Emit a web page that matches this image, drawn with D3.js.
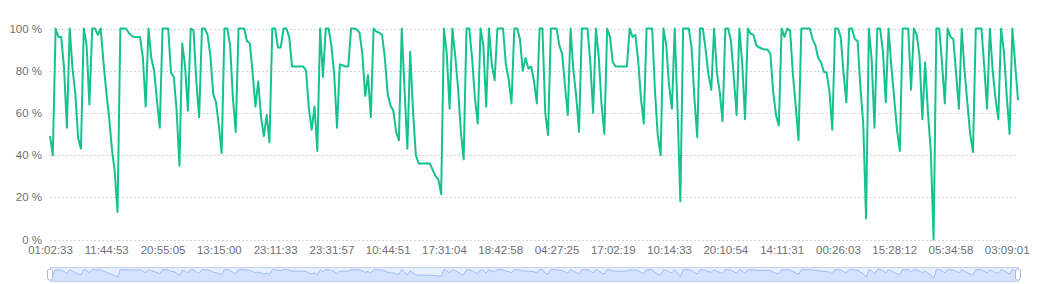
<!DOCTYPE html>
<html>
<head>
<meta charset="utf-8">
<script src="https://cdn.jsdelivr.net/npm/d3@7/dist/d3.min.js"></script>
<style>
html,body{margin:0;padding:0;background:#fff;}
svg{display:block;}
text{font-family:"Liberation Sans",Arial,sans-serif;}
</style>
</head>
<body>
<svg id="chart" width="1050" height="284"></svg>
<script>
// ---- data ----
const tickLabels = ["01:02:33","11:44:53","20:55:05","13:15:00","23:11:33","23:31:57","10:44:51","17:31:04","18:42:58","04:27:25","17:02:19","10:14:33","20:10:54","14:11:31","00:26:03","15:28:12","05:34:58","03:09:01"];
const labelInterval = 20;
const yTicks = [0,20,40,60,80,100];
const usage = [
49,40,100,96,96,81,53,100,81,69,
48,43,100,92,64,100,100,97,100,84,
70,58,43,32,13,100,100,100,98,96.5,
96,96,96,86,63,100,86,80,66,53,
100,100,100,79,77,61,35,93,82,61,
100,99,75,58,100,100,97,87,69,65,
54,41,100,100,92,67,51,100,100,100,
94,93,79,63,75,58,49,59,46,100,
100,91,91,100,100,96,82,82,82,82,
82,80,62,52,63,42,100,77,100,100,
92,78,53,83,82.6,82,82,100,100,99.5,
98,88,68,78,58,100,98.5,98,97,86,
69,63.5,61,51,47,100,71,43,89,61,
40,36,36,36,36,36,33,30,28.5,21.5,
100,88,62,100,87,72,51,38,100,100,
86,67,55,100,92,63,100,83,75.5,100,
100,100,83,76,64.5,100,100,95,80,86,
81,82,75,64.5,100,100,60,49.5,100,100,
100,92,88,73,59,100,80,68,51,100,
100,100,84,60,100,86.5,64,50,100,96,
84,82,82,82,82,82,100,96,97,85,
67,55,100,100,100,70,49,40,100,92,
73,62,100,62,18,100,100,100,91,67,
48.5,100,100,90,78,71,100,79,70,56,
100,100,94,77,59,100,83,57,100,97.5,
97,92,91,90.5,90,90,88,70,59,54,
100,96,100,99,78.5,63.5,47,100,100,100,
100,95,92,86,84,79.5,79,70,52,100,
100,96,79,65,100,100,95,94,72,55,
10,100,85,53,100,100,89,65,100,82,
67,52,42,100,100,100,71,100,97,87,
57,84,60,42,0,100,100,83.5,64.5,100,
96,95,79,62,100,80,65,50,41.5,100,
100,100,82,62,100,80,67,57,100,89,
68,50,100,83,66
];

// ---- layout ----
const W = 1050, H = 284;
const m = {left:50, right:32, top:28, bottom:45};
const x0 = 50, x1 = 1018, yTop = 28.5, yBot = 239.5;
const svg = d3.select("#chart");

const x = d3.scaleLinear().domain([0, usage.length - 1]).range([x0, x1]);
const y = d3.scaleLinear().domain([0, 100]).range([yBot, yTop]);

// grid lines
svg.append("g").selectAll("line").data(yTicks).join("line")
  .attr("x1", x0).attr("x2", x1)
  .attr("y1", d => Math.round(y(d)) + 0.5).attr("y2", d => Math.round(y(d)) + 0.5)
  .attr("stroke", "#d4d4d4").attr("stroke-width", 1).attr("stroke-dasharray", "2,2");

// y axis labels
const yAxis = d3.axisLeft(y).tickValues(yTicks).tickSize(0).tickPadding(8).tickFormat(d => d + " %");
const gy = svg.append("g").attr("transform", `translate(${x0},0)`).call(yAxis);
gy.select(".domain").remove();
gy.selectAll("text").attr("fill", "#6E7079").style("font-size", "11.5px").style("font-family", "Liberation Sans, Arial, sans-serif");

// x axis labels
const tickIdx = tickLabels.map((_, i) => i * labelInterval);
const xAxis = d3.axisBottom(x).tickValues(tickIdx).tickSize(0).tickPadding(6)
  .tickFormat((d, i) => tickLabels[i]);
const gx = svg.append("g").attr("transform", `translate(0,${yBot})`).call(xAxis);
gx.select(".domain").remove();
gx.selectAll("text").attr("fill", "#6E7079").style("font-size", "11.5px").style("font-family", "Liberation Sans, Arial, sans-serif");

// line
const line = d3.line().x((d, i) => x(i)).y(d => y(d));
svg.append("path").datum(usage)
  .attr("d", line).attr("fill", "none")
  .attr("stroke", "#15c28f").attr("stroke-width", 2).attr("stroke-linejoin", "round");

// ---- dataZoom slider ----
const sTop = 267, sH = 14;
const sg = svg.append("g");
sg.append("rect").attr("x", x0 + 0.5).attr("y", sTop + 0.5).attr("width", x1 - x0).attr("height", sH)
  .attr("fill", "none").attr("stroke", "#d2dbee");
// data shadow
const ext = [0 - 30, 100 + 30];
const sy = d3.scaleLinear().domain(ext).range([sTop + sH, sTop]);
const area = d3.area().x((d, i) => x(i)).y0(sTop + sH).y1(d => sy(d));
const sline = d3.line().x((d, i) => x(i)).y(d => sy(d));
sg.append("path").datum(usage).attr("d", area).attr("fill", "#8fb0f7").attr("fill-opacity", 0.2);
sg.append("path").datum(usage).attr("d", sline).attr("fill", "none").attr("stroke", "#8fb0f7").attr("stroke-width", 0.8);
// filler
sg.append("rect").attr("x", x0).attr("y", sTop).attr("width", x1 - x0).attr("height", sH + 1)
  .attr("fill", "rgb(135,175,255)").attr("fill-opacity", 0.2);
// handles
[x0, x1].forEach(hx => {
  sg.append("rect").attr("x", hx - 2.5).attr("y", sTop + 2).attr("width", 5).attr("height", sH - 3)
    .attr("rx", 2).attr("fill", "#fff").attr("stroke", "#ACB8D1").attr("stroke-width", 1);
});
</script>
</body>
</html>
